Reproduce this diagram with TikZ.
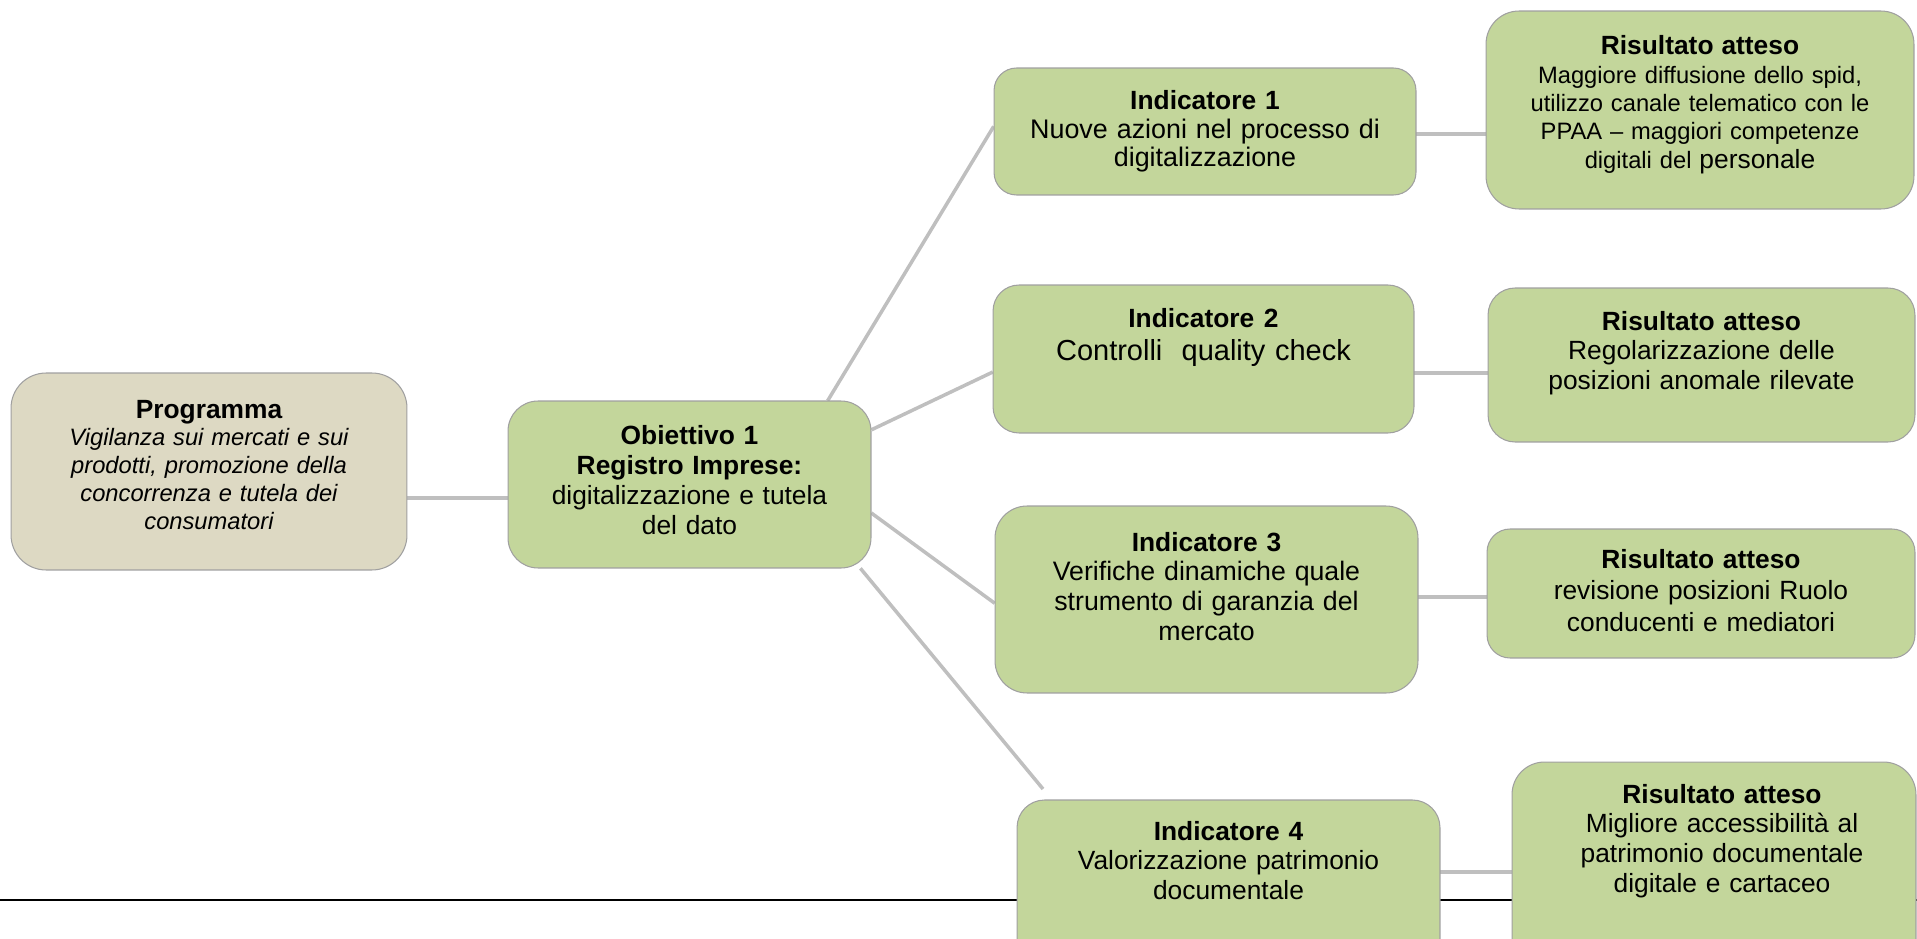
\documentclass[tikz,border=0pt]{standalone}
\usepackage{fontspec}
\setmainfont{Liberation Sans}
\usetikzlibrary{calc}
\definecolor{boxgreen}{HTML}{C3D69B}
\definecolor{boxtan}{HTML}{DDD9C3}
\definecolor{boxline}{HTML}{A0A0A0}
\definecolor{connline}{HTML}{BFBFBF}
\newcommand{\fs}[2]{\fontsize{#1}{#2}\selectfont}
\begin{document}
\begin{tikzpicture}[x=0.02cm,y=0.02cm,
  box/.style={draw=boxline, line width=0.6pt, fill=boxgreen, inner sep=0pt},
  conn/.style={draw=connline, line width=2pt},
  rule/.style={draw=black, line width=0.8pt},
  txt/.style={inner sep=0pt, align=center, anchor=base, text=black}]
\useasboundingbox (0,0) rectangle (1917,-939);
\clip (0,0) rectangle (1917,-939);

% black horizontal rule (behind everything)
\coordinate (ruleL) at (0,-900);
\coordinate (ruleR) at (1917,-900);
\draw[rule] (ruleL) -- (ruleR);

% box positions (invisible anchors for the connectors)
\path
  node[minimum width=7.92cm, minimum height=3.94cm, inner sep=0pt] (prog) at (209,-471.5) {}
  node[minimum width=7.26cm, minimum height=3.34cm, inner sep=0pt] (obj) at (689.5,-484.5) {}
  node[minimum width=8.44cm, minimum height=2.54cm, inner sep=0pt] (ind1) at (1205,-131.5) {}
  node[minimum width=8.56cm, minimum height=3.96cm, inner sep=0pt] (ris1) at (1700,-110) {}
  node[minimum width=8.42cm, minimum height=2.96cm, inner sep=0pt] (ind2) at (1203.5,-359) {}
  node[minimum width=8.54cm, minimum height=3.08cm, inner sep=0pt] (ris2) at (1701.5,-365) {}
  node[minimum width=8.46cm, minimum height=3.74cm, inner sep=0pt] (ind3) at (1206.5,-599.5) {}
  node[minimum width=8.56cm, minimum height=2.58cm, inner sep=0pt] (ris3) at (1701,-593.5) {}
  node[minimum width=8.46cm, minimum height=3.6cm, inner sep=0pt] (ind4) at (1228.5,-890) {}
  node[minimum width=8.08cm, minimum height=4.56cm, inner sep=0pt] (ris4) at (1714,-876) {};

% connectors
\draw[conn] ($(prog.north east)!0.635!(prog.south east)$) coordinate (c0) -- (c0 -| obj.west);
\draw[conn] ($(obj.north west)!0.88!(obj.north east)$) -- ($(ind1.north west)!0.46!(ind1.south west)$);
\draw[conn] ($(obj.north east)!0.174!(obj.south east)$) -- ($(ind2.north west)!0.588!(ind2.south west)$);
\draw[conn] ($(obj.north east)!0.67!(obj.south east)$) -- ($(ind3.north west)!0.52!(ind3.south west)$);
\coordinate (gap4) at (1043,-789);
\draw[conn] ($(obj.south west)!0.97!(obj.south east)$) -- (gap4);
\draw[conn] ($(ind1.north east)!0.52!(ind1.south east)$) coordinate (c1) -- (c1 -| ris1.west);
\draw[conn] ($(ind2.north east)!0.595!(ind2.south east)$) coordinate (c2) -- (c2 -| ris2.west);
\draw[conn] ($(ind3.north east)!0.487!(ind3.south east)$) coordinate (c3) -- (c3 -| ris3.west);
\draw[conn] ($(ind4.north east)!0.4!(ind4.south east)$) coordinate (c4) -- (c4 -| ris4.west);

% box drawings
\node[box, fill=boxtan, minimum width=7.92cm, minimum height=3.94cm, rounded corners=0.7cm] (progb) at (prog) {};
\node[box, minimum width=7.26cm, minimum height=3.34cm, rounded corners=0.6cm] (objb) at (obj) {};
\node[box, minimum width=8.44cm, minimum height=2.54cm, rounded corners=0.45cm] (ind1b) at (ind1) {};
\node[box, minimum width=8.56cm, minimum height=3.96cm, rounded corners=0.66cm] (ris1b) at (ris1) {};
\node[box, minimum width=8.42cm, minimum height=2.96cm, rounded corners=0.52cm] (ind2b) at (ind2) {};
\node[box, minimum width=8.54cm, minimum height=3.08cm, rounded corners=0.54cm] (ris2b) at (ris2) {};
\node[box, minimum width=8.46cm, minimum height=3.74cm, rounded corners=0.64cm] (ind3b) at (ind3) {};
\node[box, minimum width=8.56cm, minimum height=2.58cm, rounded corners=0.46cm] (ris3b) at (ris3) {};
\node[box, minimum width=8.46cm, minimum height=3.6cm, rounded corners=0.55cm] (ind4b) at (ind4) {};
\node[box, minimum width=8.08cm, minimum height=4.56cm, rounded corners=0.65cm] (ris4b) at (ris4) {};

% texts
\node[txt, text width=7.6cm, font=\fs{13.5}{15.9}] (progt) at (209,-418)
  {{\fs{15}{15.9}\bfseries Programma}\\ \itshape Vigilanza sui mercati e sui\\ prodotti, promozione della\\ concorrenza e tutela dei\\ consumatori};
\node[txt, text width=7.0cm, font=\fs{15}{17.2}] (objt) at (689.5,-444)
  {\textbf{Obiettivo 1}\\ \textbf{Registro Imprese:}\\ digitalizzazione e tutela\\ del dato};
\node[txt, text width=8.2cm, font=\fs{15.3}{16.2}] (ind1t) at (1205,-110)
  {{\fs{15}{16.2}\bfseries Indicatore 1}\\ Nuove azioni nel processo di\\ digitalizzazione};
\node[txt, text width=8.2cm, font=\fs{16.5}{19.3}] (ind2t) at (1203.5,-327)
  {{\fs{15}{19.3}\bfseries Indicatore 2}\\ Controlli~ quality check};
\node[txt, text width=8.2cm, font=\fs{15.2}{17}] (ind3t) at (1206.5,-551)
  {{\fs{15}{17}\bfseries Indicatore 3}\\ Verifiche dinamiche quale\\ strumento di garanzia del\\ mercato};
\node[txt, text width=8.2cm, font=\fs{15}{17}] (ind4t) at (1228.5,-840)
  {\textbf{Indicatore 4}\\ Valorizzazione patrimonio\\ documentale};
\node[txt, text width=8.3cm, font=\fs{13.5}{16.1}] (ris1t) at (1700,-55)
  {{\fs{15}{16.1}\bfseries Risultato atteso}\\ Maggiore diffusione dello spid,\\ utilizzo canale telematico con le\\ PPAA – maggiori competenze\\ digitali del {\fs{15}{16.1}personale}};
\node[txt, text width=8.3cm, font=\fs{15}{17}] (ris2t) at (1701.5,-330)
  {\textbf{Risultato atteso}\\ Regolarizzazione delle\\ posizioni anomale rilevate};
\node[txt, text width=8.3cm, font=\fs{15}{18}] (ris3t) at (1701,-568)
  {\textbf{Risultato atteso}\\ revisione posizioni Ruolo\\ conducenti e mediatori};
\node[txt, text width=7.9cm, font=\fs{15}{17}] (ris4t) at (1722,-803)
  {\textbf{Risultato atteso}\\ Migliore accessibilità al\\ patrimonio documentale\\ digitale e cartaceo};
\end{tikzpicture}
\end{document}
